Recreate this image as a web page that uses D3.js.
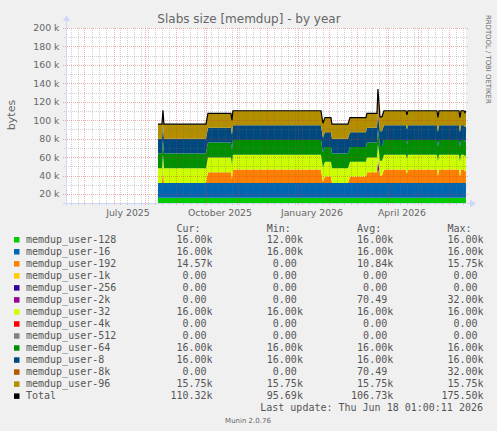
<!DOCTYPE html>
<meta charset="utf-8">
<style>
	body { margin: 0; background: #F0F0F0; }
	svg { display: block; }
	text { font-family: "DejaVu Sans", sans-serif; fill: #666; }
	.mono { font-family: "DejaVu Sans Mono", monospace; font-size: 10px; fill: #555; }
</style>
<body>
<svg id="chart" width="497" height="431"></svg>
<script src="https://cdn.jsdelivr.net/npm/d3@7/dist/d3.min.js"></script>
<script>
	// sample dates (one value per day in the yearly rra, only change points kept)
	var dates = ["2025-08-14","2025-08-18","2025-08-19","2025-08-20","2025-10-01","2025-10-03","2025-10-26","2025-10-27","2025-10-28",
		"2026-01-24","2026-01-26","2026-01-28","2026-02-03","2026-02-04","2026-02-20","2026-02-22","2026-03-10","2026-03-11",
		"2026-03-21","2026-03-22","2026-03-24","2026-03-26","2026-03-28","2026-04-19","2026-04-20","2026-04-21","2026-05-20",
		"2026-05-21","2026-05-22","2026-06-11","2026-06-12","2026-06-13","2026-06-16","2026-06-17","2026-06-18"];

	// values in k (bytes / 1000)
	var u128 = [16,16,16,16,16,16,16,16,16,16,16,16,16,16,16,16,16,16,16,16,16,16,16,16,16,16,16,16,16,16,16,16,16,16,16];
	var u16  = [16,16,16,16,16,16,16,16,16,16,16,16,16,16,16,16,16,16,16,16,16,16,16,16,16,16,16,16,16,16,16,16,16,16,16];
	var u192 = [0,0,15,0,0,11.75,11.75,4.25,14.57,14.57,1,7.05,7.05,0,0,7.05,7.05,11.75,11.75,14.57,8,8,14.57,14.57,10,14.57,14.57,7.25,14.57,14.57,7,14.57,14.57,12.5,14.57];
	var u1k  = [0,0,0,0,0,0,0,0,0,0,0,0,0,0,0,0,0,0,0,0,0,0,0,0,0,0,0,0,0,0,0,0,0,0,0];
	var u256 = [0,0,0,0,0,0,0,0,0,0,0,0,0,0,0,0,0,0,0,0,0,0,0,0,0,0,0,0,0,0,0,0,0,0,0];
	var u2k  = [0,0,0,0,0,0,0,0,0,0,0,0,0,0,0,0,0,0,0,11.75,0,0,0,0,0,0,0,0,0,0,0,0,0,0,0];
	var u32  = [16,16,16,16,16,16,16,16,16,16,16,16,16,16,16,16,16,16,16,16,16,16,16,16,16,16,16,16,16,16,16,16,16,16,16];
	var u4k  = [0,0,0,0,0,0,0,0,0,0,0,0,0,0,0,0,0,0,0,0,0,0,0,0,0,0,0,0,0,0,0,0,0,0,0];
	var u512 = [0,0,0,0,0,0,0,0,0,0,0,0,0,0,0,0,0,0,0,0,0,0,0,0,0,0,0,0,0,0,0,0,0,0,0];
	var u64  = [16,16,16,16,16,16,16,16,16,16,16,16,16,16,16,16,16,16,16,16,16,16,16,16,16,16,16,16,16,16,16,16,16,16,16];
	var u8   = [16,16,16,16,16,16,16,16,16,16,16,16,16,16,16,16,16,16,16,16,16,16,16,16,16,16,16,16,16,16,16,16,16,16,16];
	var u8k  = [0,0,0,0,0,0,0,0,0,0,0,0,0,0,0,0,0,0,0,11.75,0,0,0,0,0,0,0,0,0,0,0,0,0,0,0];
	var u96  = [15.75,15.75,15.75,15.75,15.75,15.75,15.75,15.75,15.75,15.75,15.75,15.75,15.75,15.75,15.75,15.75,15.75,15.75,15.75,15.75,15.75,15.75,15.75,15.75,15.75,15.75,15.75,15.75,15.75,15.75,15.75,15.75,15.75,15.75,15.75];

	var names  = ["memdup_user-128","memdup_user-16","memdup_user-192","memdup_user-1k","memdup_user-256","memdup_user-2k",
		"memdup_user-32","memdup_user-4k","memdup_user-512","memdup_user-64","memdup_user-8","memdup_user-8k","memdup_user-96"];
	var colors = ["#00CC00","#0066B3","#FF8000","#FFCC00","#330099","#990099","#CCFF00","#FF0000","#808080","#008F00","#00487D","#B35A00","#B38F00"];
	var series = [u128,u16,u192,u1k,u256,u2k,u32,u4k,u512,u64,u8,u8k,u96];

	// legend table
	var legCur = ["16.00k","16.00k","14.57k","0.00","0.00","0.00","16.00k","0.00","0.00","16.00k","16.00k","0.00","15.75k","110.32k"];
	var legMin = ["12.00k","16.00k","0.00","0.00","0.00","0.00","16.00k","0.00","0.00","16.00k","16.00k","0.00","15.75k","95.69k"];
	var legAvg = ["16.00k","16.00k","10.84k","0.00","0.00","70.49","16.00k","0.00","0.00","16.00k","16.00k","70.49","15.75k","106.73k"];
	var legMax = ["16.00k","16.00k","15.75k","0.00","0.00","32.00k","16.00k","0.00","0.00","16.00k","16.00k","32.00k","15.75k","175.50k"];

	var yTicks = [20,40,60,80,100,120,140,160,180,200];

	var svg = d3.select("#chart");
	var parse = d3.timeParse("%Y-%m-%d");

	var pL = 66, pR = 466, pT = 28, pB = 203;
	var t0 = new Date(2025,4,14,1,0), t1 = new Date(2026,5,18,1,0);
	var x = d3.scaleTime().domain([t0, t1]).range([pL, pR]);
	var y = d3.scaleLinear().domain([10.3, 200]).range([pB, pT]);

	// rows for the stack
	var rows = dates.map(function(d, i) {
		var r = {date: parse(d)};
		names.forEach(function(n, j) { r[n] = series[j][i]; });
		return r;
	});
	var stack = d3.stack().keys(names)(rows);

	svg.append("rect").attr("x", pL).attr("y", pT).attr("width", pR - pL).attr("height", pB - pT).attr("fill", "#fff");

	svg.append("clipPath").attr("id", "clip")
		.append("rect").attr("x", pL).attr("y", pT).attr("width", pR - pL).attr("height", pB - pT);

	var area = d3.area()
		.x(function(d) { return x(d.data.date); })
		.y0(function(d) { return y(d[0]); })
		.y1(function(d) { return y(d[1]); });

	var plot = svg.append("g").attr("clip-path", "url(#clip)");
	plot.selectAll("path.layer").data(stack).enter().append("path")
		.attr("class", "layer")
		.attr("d", area)
		.attr("fill", function(d, i) { return colors[i]; });

	// grid on top, rrdtool style (translucent so the areas show through)
	var grid = svg.append("g");
	var months = d3.timeMonth.range(t0, t1);
	var weeks = d3.timeMonday.range(t0, t1).filter(function(w) {
		return !months.some(function(m) { return Math.abs(x(m) - x(w)) < 1.5; });
	});
	var minorCol = "rgba(110,110,110,0.32)", majorCol = "rgba(220,50,50,0.38)";
	grid.selectAll("line.wk").data(weeks).enter().append("line").attr("class", "wk")
		.attr("x1", function(d) { return Math.round(x(d)) + 0.5; })
		.attr("x2", function(d) { return Math.round(x(d)) + 0.5; })
		.attr("y1", pT).attr("y2", pB + 2)
		.attr("stroke", minorCol).attr("stroke-dasharray", "1,1");
	grid.selectAll("line.mo").data(months).enter().append("line").attr("class", "mo")
		.attr("x1", function(d) { return Math.round(x(d)) + 0.5; })
		.attr("x2", function(d) { return Math.round(x(d)) + 0.5; })
		.attr("y1", pT).attr("y2", pB + 3)
		.attr("stroke", majorCol).attr("stroke-dasharray", "1,1");

	var minorY = d3.range(30, 200, 20);
	grid.selectAll("line.ym").data(minorY).enter().append("line").attr("class", "ym")
		.attr("x1", pL - 2).attr("x2", pR + 2)
		.attr("y1", function(d) { return Math.round(y(d)) + 0.5; })
		.attr("y2", function(d) { return Math.round(y(d)) + 0.5; })
		.attr("stroke", minorCol).attr("stroke-dasharray", "1,1");
	grid.selectAll("line.yM").data(yTicks).enter().append("line").attr("class", "yM")
		.attr("x1", pL - 3).attr("x2", pR + 3)
		.attr("y1", function(d) { return Math.round(y(d)) + 0.5; })
		.attr("y2", function(d) { return Math.round(y(d)) + 0.5; })
		.attr("stroke", majorCol).attr("stroke-dasharray", "1,1");

	// total line
	var totals = rows.map(function(r, i) {
		return {date: r.date, v: d3.sum(series, function(s) { return s[i]; })};
	});
	svg.append("path").datum(totals)
		.attr("clip-path", "url(#clip)")
		.attr("d", d3.line().x(function(d) { return x(d.date); }).y(function(d) { return y(d.v); }))
		.attr("fill", "none").attr("stroke", "#000").attr("stroke-width", 1.2);

	// axes
	var ax = svg.append("g").attr("stroke", "#CFD6F8").attr("shape-rendering", "crispEdges");
	ax.append("line").attr("x1", pL + 0.5).attr("x2", pL + 0.5).attr("y1", pB + 3).attr("y2", 20);
	ax.append("line").attr("x1", pL - 3).attr("x2", 471).attr("y1", pB + 0.5).attr("y2", pB + 0.5);
	svg.append("path").attr("d", "M" + (pL - 3) + ",21L" + (pL + 0.5) + ",15L" + (pL + 4) + ",21Z").attr("fill", "#CFD6F8");
	svg.append("path").attr("d", "M470,199.5L476,203.5L470,207.5Z").attr("fill", "#CFD6F8");

	// y labels
	svg.selectAll("text.yl").data(yTicks).enter().append("text").attr("class", "yl")
		.attr("x", 59.5).attr("y", function(d) { return y(d) + 3.4; })
		.attr("text-anchor", "end").attr("font-size", "9.33px")
		.text(function(d) { return d + " k"; });

	// x labels, centred on the 15th
	var quarters = [new Date(2025,6,15), new Date(2025,9,15), new Date(2026,0,15), new Date(2026,3,15)];
	svg.selectAll("text.xl").data(quarters).enter().append("text").attr("class", "xl")
		.attr("x", function(d) { return x(d); }).attr("y", 215.5)
		.attr("text-anchor", "middle").attr("font-size", "9.33px")
		.text(d3.timeFormat("%B %Y"));

	svg.append("text").attr("x", 249).attr("y", 22.5).attr("text-anchor", "middle")
		.attr("font-size", "12px").attr("fill", "#555")
		.text("Slabs size [memdup] - by year");

	svg.append("text").attr("transform", "translate(15,115) rotate(-90)")
		.attr("text-anchor", "middle").attr("font-size", "11px")
		.text("bytes");

	svg.append("text").attr("transform", "translate(485.5,15) rotate(90)")
		.attr("font-size", "6.9px").attr("fill", "#c8c8c8")
		.text("RRDTOOL / TOBI OETIKER");

	// legend, monospace columns
	var cw = 6.02, lx = 26;
	function fmt(v) {
		var s = v;
		if (!/k$/.test(s)) s = s + " ";
		while (s.length < 7) s = " " + s;
		return s;
	}
	var head = [["Cur:", 25], ["Min:", 40], ["Avg:", 55], ["Max:", 70]];
	svg.selectAll("text.hd").data(head).enter().append("text")
		.attr("class", "mono hd").attr("x", function(d) { return lx + d[1] * cw; }).attr("y", 232)
		.text(function(d) { return d[0]; });

	var legNames = names.concat(["Total"]);
	var legColors = colors.concat(["#000"]);
	var rowsG = svg.selectAll("g.leg").data(legNames).enter().append("g").attr("class", "leg")
		.attr("transform", function(d, i) { return "translate(0," + (239.5 + i * 12.03) + ")"; });
	rowsG.append("rect").attr("x", 14).attr("y", -2.5).attr("width", 5.5).attr("height", 5.5)
		.attr("fill", function(d, i) { return legColors[i]; });
	rowsG.append("text").attr("class", "mono").attr("x", lx).attr("y", 3.6).text(function(d) { return d; });
	[legCur, legMin, legAvg, legMax].forEach(function(col, c) {
		rowsG.append("text").attr("class", "mono")
			.attr("x", lx + (24 + c * 15) * cw).attr("y", 3.6)
			.style("white-space", "pre")
			.text(function(d, i) { return fmt(col[i]); });
	});

	svg.append("text").attr("class", "mono").attr("x", 483).attr("y", 411)
		.attr("text-anchor", "end")
		.text("Last update: Thu Jun 18 01:00:11 2026");

	svg.append("text").attr("x", 248).attr("y", 423).attr("text-anchor", "middle")
		.attr("font-size", "7px").attr("fill", "#bbb")
		.text("Munin 2.0.76");
</script>
</body>
